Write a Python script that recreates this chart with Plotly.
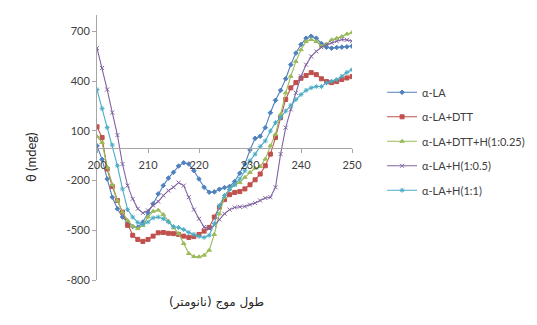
import plotly.graph_objects as go

wavelength = list(range(200, 251))

alpha_la = [10, -72, -190, -300, -370, -420, -452, -477, -482, -450,
            -395, -340, -280, -230, -185, -150, -112, -92, -100, -140,
            -190, -240, -270, -268, -252, -242, -235, -205, -155, -100,
            -15, 55, 68, 120, 210, 285, 345, 415, 500, 570,
            622, 660, 672, 660, 628, 605, 600, 604, 606, 608, 612]

alpha_la_dtt = [125, 60, -130, -235, -320, -390, -470, -530, -555, -567,
                -555, -535, -515, -513, -518, -520, -525, -535, -543, -538,
                -525, -505, -483, -420, -360, -315, -285, -272, -266, -250,
                -225, -195, -160, -110, -40, 60, 180, 290, 360, 392,
                418, 435, 452, 440, 415, 398, 392, 398, 410, 420, 428]

alpha_la_dtt_h025 = [66, 30, -120, -225, -320, -390, -440, -475, -490, -470,
                     -420, -385, -378, -405, -445, -485, -520, -580, -640, -658,
                     -660, -650, -620, -525, -400, -300, -250, -225, -212, -180,
                     -150, -125, -115, -70, 10, 80, 200, 330, 430, 520,
                     590, 640, 652, 640, 612, 625, 650, 660, 670, 685, 694]

alpha_la_h05 = [600, 480, 350, 211, 75, -100, -230, -310, -370, -395,
                -380, -350, -326, -290, -260, -240, -212, -230, -300, -375,
                -430, -480, -490, -470, -435, -400, -375, -362, -358, -356,
                -345, -335, -320, -305, -300, -240, -40, 120, 230, 330,
                430, 500, 550, 580, 605, 620, 632, 642, 652, 650, 642]

alpha_la_h1 = [350, 235, 120, 15, -110, -250, -375, -420, -453, -465,
               -450, -425, -420, -430, -450, -478, -483, -495, -513, -525,
               -537, -543, -530, -460, -350, -290, -253, -225, -190, -140,
               -80, -40, 5, 40, 100, 150, 180, 220, 255, 290,
               320, 345, 360, 368, 368, 390, 400, 410, 430, 453, 470]

series_names = ["α-LA", "α-LA+DTT", "α-LA+DTT+H(1:0.25)", "α-LA+H(1:0.5)", "α-LA+H(1:1)"]
series_values = [alpha_la, alpha_la_dtt, alpha_la_dtt_h025, alpha_la_h05, alpha_la_h1]
colors = ["#4F81BD", "#C0504D", "#9BBB59", "#8064A2", "#4BACC6"]
symbols = ["diamond", "square", "triangle-up", "x-thin-open", "asterisk-open"]
sizes = [3.5, 4, 4, 4, 4]

y_ticks = [-800, -500, -200, 100, 400, 700]
x_ticks = [200, 210, 220, 230, 240, 250]

fig = go.Figure()
for i, (name, vals) in enumerate(zip(series_names, series_values)):
    fig.add_trace(go.Scatter(
        x=wavelength, y=vals, name=name, mode="lines+markers",
        line=dict(color=colors[i], width=1.1),
        marker=dict(symbol=symbols[i], size=sizes[i], color=colors[i],
                    line=dict(color=colors[i], width=1)),
        legendgroup=f"g{i}",
    ))

font_family = "Lato, 'Open Sans', sans-serif"
# page body has an 8px default margin, so the figure is sized/offset to compensate
fig.update_layout(
    width=529, height=317,
    margin=dict(l=89, r=185, t=7, b=45, autoexpand=False),
    paper_bgcolor="white", plot_bgcolor="white",
    font=dict(family=font_family, size=11, color="#404040"),
    showlegend=True,
    legend=dict(
        x=1.118, y=0.763, xanchor="left", yanchor="top",
        font=dict(size=11, color="#404040"),
        tracegroupgap=5.5, itemwidth=30,
        bgcolor="rgba(0,0,0,0)",
    ),
    xaxis=dict(
        range=[200, 250], tickvals=x_ticks, ticktext=[str(v) for v in x_ticks],
        anchor="free", position=0.5,
        showline=True, linecolor="#A6A6A6", linewidth=1,
        ticks="outside", ticklen=4, tickcolor="#A6A6A6",
        ticklabelstandoff=3,
        showgrid=False, zeroline=False,
        tickfont=dict(size=11, color="#404040"),
    ),
    yaxis=dict(
        range=[-800, 800], tickvals=y_ticks, ticktext=[str(v) for v in y_ticks],
        showline=True, linecolor="#A6A6A6", linewidth=1,
        ticks="outside", ticklen=4, tickcolor="#A6A6A6",
        showgrid=False, zeroline=False,
        tickfont=dict(size=11, color="#404040"),
    ),
    annotations=[
        dict(text="θ (mdeg)", xref="paper", yref="paper",
             x=-0.298, y=0.464, textangle=-90, showarrow=False,
             font=dict(size=13, color="#262626")),
        dict(text="طول موج (نانومتر)", xref="paper", yref="paper",
             x=0.47, y=-0.12, showarrow=False,
             font=dict(family="DejaVu Sans, sans-serif", size=12, color="#262626")),
    ],
)

fig.write_html("out.html")
